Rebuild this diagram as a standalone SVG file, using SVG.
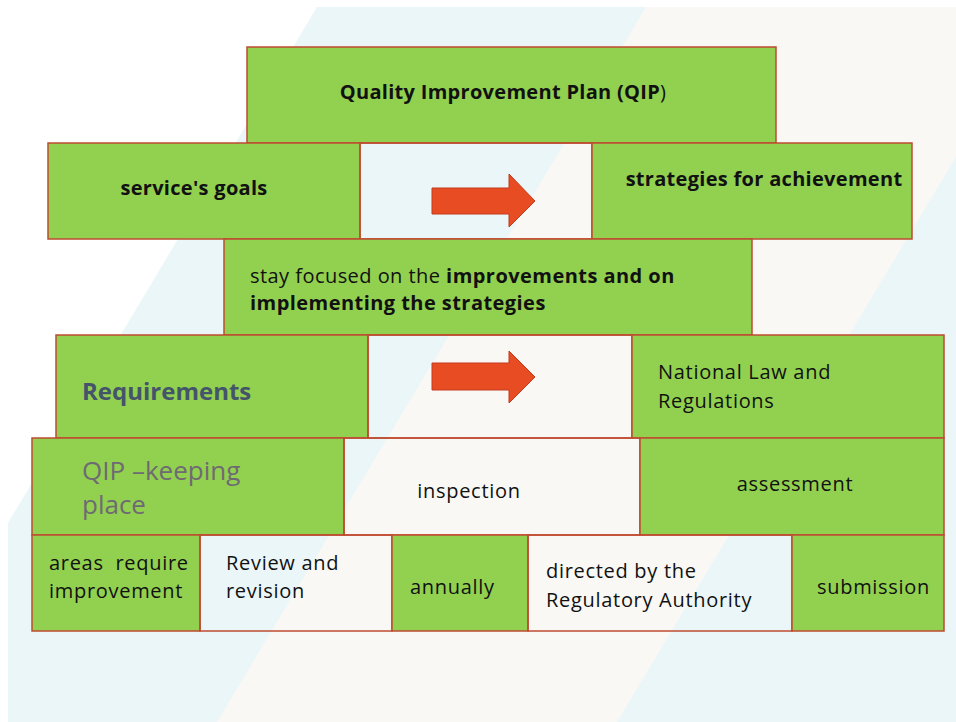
<svg xmlns="http://www.w3.org/2000/svg" width="956" height="722" viewBox="0 0 956 722">
<style>
.g{fill:#92D050;stroke:#BE4B30;stroke-width:1.5}
.w{fill:none;stroke:#BE4B30;stroke-width:1.5}
text{font-family:"Open Sans","Noto Sans","Liberation Sans",sans-serif;fill:#111;white-space:pre}
.b{font-weight:bold;font-size:20px;letter-spacing:0.3px}
.t{font-size:20px;letter-spacing:0.7px}
.m{font-size:20px;letter-spacing:0.45px}
.arr{fill:#E84C22;stroke:#C23A1E;stroke-width:1}
</style>
<rect width="956" height="722" fill="#FFFFFF"/>
<polygon points="317,7 956,7 956,722 8,722 8,523" fill="#EBF6F9"/>
<polygon points="646,7 956,7 956,157 617,722 217,722" fill="#F9F8F4"/>

<g id="n-qip">
<rect class="g" x="247" y="47" width="529" height="96"/>
<text class="b" x="503" y="99" text-anchor="middle">Quality Improvement Plan (QIP<tspan font-weight="normal">)</tspan></text>
</g>
<g id="n-goals">
<rect class="g" x="48" y="143" width="312" height="96"/>
<text class="b" x="194" y="195" text-anchor="middle">service's goals</text>
</g>
<g id="n-gap1">
<rect class="w" x="360" y="143" width="232" height="96"/>
</g>
<g id="n-strategies">
<rect class="g" x="592" y="143" width="320" height="96"/>
<text class="b" x="764" y="186" text-anchor="middle">strategies for achievement</text>
</g>
<g id="n-focus">
<rect class="g" x="224" y="239" width="528" height="96"/>
<text class="m" x="250" y="283">stay focused on the <tspan font-weight="bold">improvements and on</tspan></text>
<text class="m" x="250" y="310" font-weight="bold">implementing the strategies</text>
</g>
<g id="n-req">
<rect class="g" x="56" y="335" width="312" height="103"/>
<text x="82" y="400" font-size="24" font-weight="bold" style="fill:#44546A">Requirements</text>
</g>
<g id="n-gap2">
<rect class="w" x="368" y="335" width="264" height="103"/>
</g>
<g id="n-law">
<rect class="g" x="632" y="335" width="312" height="103"/>
<text class="t" x="658" y="379">National Law and</text>
<text class="t" x="658" y="408">Regulations</text>
</g>
<g id="n-keeping">
<rect class="g" x="32" y="438" width="312" height="97"/>
<text x="82" y="480" font-size="26" style="fill:#6E6A73">QIP –keeping</text>
<text x="82" y="514" font-size="26" style="fill:#6E6A73">place</text>
</g>
<g id="n-inspection">
<rect class="w" x="344" y="438" width="296" height="97"/>
<text class="t" x="469" y="498" text-anchor="middle">inspection</text>
</g>
<g id="n-assessment">
<rect class="g" x="640" y="438" width="304" height="97"/>
<text class="t" x="795" y="491" text-anchor="middle">assessment</text>
</g>
<g id="n-areas">
<rect class="g" x="32" y="535" width="168" height="96"/>
<text class="t" x="49" y="570">areas  require</text>
<text class="t" x="49" y="598">improvement</text>
</g>
<g id="n-review">
<rect class="w" x="200" y="535" width="192" height="96"/>
<text class="t" x="226" y="570">Review and</text>
<text class="t" x="226" y="598">revision</text>
</g>
<g id="n-annually">
<rect class="g" x="392" y="535" width="136" height="96"/>
<text class="t" x="410" y="594">annually</text>
</g>
<g id="n-directed">
<rect class="w" x="528" y="535" width="264" height="96"/>
<text class="t" x="546" y="578">directed by the</text>
<text class="t" x="546" y="607">Regulatory Authority</text>
</g>
<g id="n-submission">
<rect class="g" x="792" y="535" width="152" height="96"/>
<text class="t" x="817" y="594">submission</text>
</g>

<g id="connectors">
<polygon class="arr" points="432,188 509,188 509,174 535,201 509,227 509,214 432,214"/>
<polygon class="arr" points="432,363 509,363 509,351 535,377 509,403 509,390 432,390"/>
</g>
</svg>
